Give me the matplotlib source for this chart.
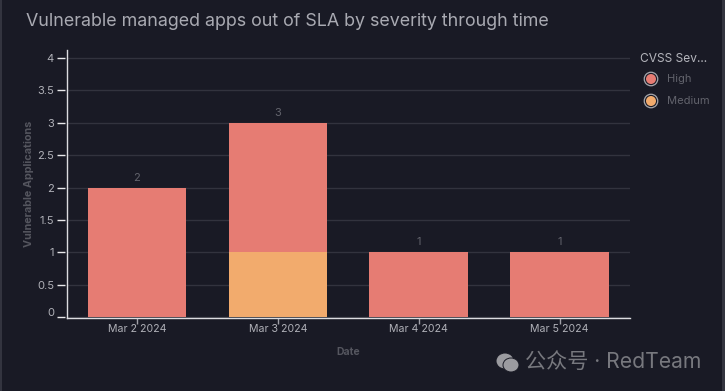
import numpy as np
from matplotlib import pyplot as plt
from matplotlib.patches import Ellipse, Rectangle
from matplotlib.transforms import Affine2D

plt.rcParams['font.family'] = ['Inter', 'Noto Sans CJK SC', 'DejaVu Sans']

dates = ['Mar 2 2024', 'Mar 3 2024', 'Mar 4 2024', 'Mar 5 2024']
high = [2, 2, 1, 1]
medium = [0, 1, 0, 0]
totals = [2, 3, 1, 1]
yticks = [0, 0.5, 1, 1.5, 2, 2.5, 3, 3.5, 4]
ylabels = ['0', '0.5', '1', '1.5', '2', '2.5', '3', '3.5', '4']

W, H = 725, 391
BG = '#191a25'
RED = '#e67c73'
ORANGE = '#f2ab6d'

fig = plt.figure(figsize=(W / 100, H / 100), dpi=100, facecolor=BG)
ax = fig.add_axes([66.5 / W, 1 - 317.5 / H, (630 - 66.5) / W, (317.5 - 50) / H], facecolor=BG)

x = np.arange(len(dates))
ax.bar(x, medium, width=0.7, color=ORANGE, zorder=3)
ax.bar(x, high, width=0.7, bottom=medium, color=RED, zorder=3)
for i in range(len(dates)):
    ax.annotate(str(totals[i]), (x[i], totals[i]), xytext=(0, 3.5), textcoords='offset points',
                ha='center', va='bottom', fontsize=8, color='#62636c')

ax.set_xlim(-0.5, 3.5)
ax.set_ylim(-0.008, 4.125)
ax.set_xticks(x, dates)
ax.set_yticks(yticks, ylabels)
ax.grid(axis='y', color='#32333e', linewidth=1, zorder=0)
ax.tick_params(axis='x', length=4, width=1, color='#a0a0a8', labelcolor='#b0b1b8', labelsize=7.6, pad=1)
ax.tick_params(axis='y', length=6, width=1, color='#e8e8ea', labelcolor='#b0b1b8', labelsize=8, pad=3)
for s in ['top', 'right']:
    ax.spines[s].set_visible(False)
for s in ['left', 'bottom']:
    ax.spines[s].set_color('#dcdce0')
    ax.spines[s].set_linewidth(1)

# y ticks stop short of the axis line, the 0 label sits a bit above its tick
for tick in ax.yaxis.get_major_ticks():
    tick.tick1line.set_transform(tick.tick1line.get_transform() + Affine2D().translate(-2, 0))
zero = ax.yaxis.get_major_ticks()[0].label1
zero.set_transform(zero.get_transform() + Affine2D().translate(0, 5))

fig.text(348 / W, 1 - 352 / H, 'Date', fontsize=7.5, fontweight='bold', color='#55565f', ha='center', va='center')
fig.text(28.5 / W, 1 - 183.5 / H, 'Vulnerable Applications', fontsize=7.8, fontweight='bold', color='#55565f',
         rotation=90, ha='center', va='center')
fig.text(26 / W, 1 - 21 / H, 'Vulnerable managed apps out of SLA by severity through time', fontsize=12.85,
         color='#a9aab2', ha='left', va='center')

# legend
fig.text(640 / W, 1 - 58.5 / H, 'CVSS Sev...', fontsize=8.6, color='#b4b5bc', ha='left', va='center')
for name, col, ypos in [('High', RED, 79), ('Medium', ORANGE, 101)]:
    fig.add_artist(Ellipse((651 / W, 1 - ypos / H), 13.5 / W, 13.5 / H, facecolor=BG,
                           edgecolor='#a6a7ad', linewidth=0.9, transform=fig.transFigure))
    fig.add_artist(Ellipse((651 / W, 1 - ypos / H), 10 / W, 10 / H, facecolor=col,
                           edgecolor='none', transform=fig.transFigure))
    fig.text(667 / W, 1 - ypos / H, name, fontsize=8, color='#62636c', ha='left', va='center')

# window edges
fig.add_artist(Rectangle((0, 0), 2 / W, 1, facecolor='#33343f', edgecolor='none', transform=fig.transFigure))
fig.add_artist(Rectangle((1 - 3 / W, 0), 3 / W, 1, facecolor='#33343f', edgecolor='none', transform=fig.transFigure))

# watermark
for cx, cy, rx, ry in [(505, 361, 18, 16), (511, 365, 16, 14)]:
    fig.add_artist(Ellipse((cx / W, 1 - cy / H), rx / W, ry / H, facecolor='#9b9ba0', edgecolor=BG,
                           linewidth=0.7, transform=fig.transFigure))
fig.text(525 / W, 1 - 362 / H, '公众号 · RedTeam', fontsize=15.2, color='#77787e', ha='left', va='center')

fig.savefig('out.png', dpi=100, facecolor=BG)
